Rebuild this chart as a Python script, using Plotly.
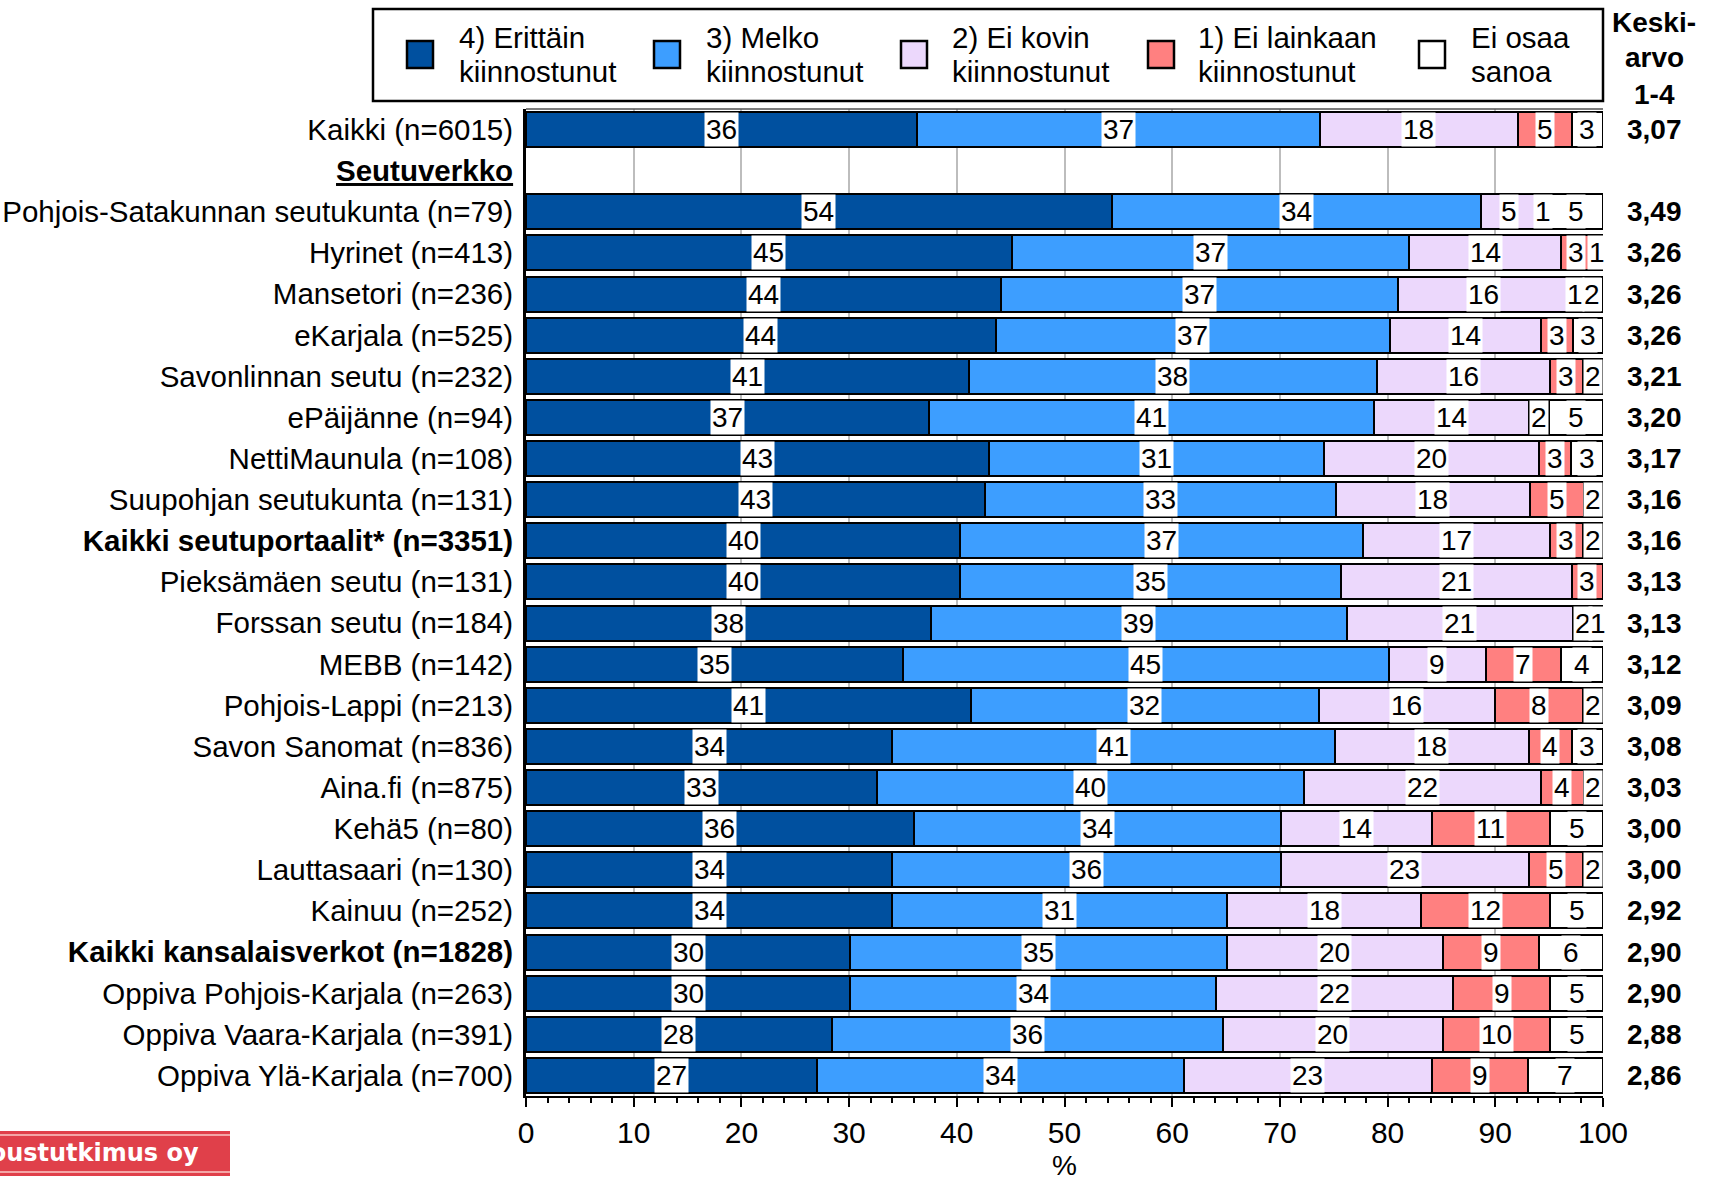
import plotly.graph_objects as go

# ---------------- data ----------------
HEADER = "<b><u>Seutuverkko</u></b>"
row_order = [
    "Kaikki (n=6015)", HEADER,
    "Pohjois-Satakunnan seutukunta (n=79)", "Hyrinet (n=413)", "Mansetori (n=236)",
    "eKarjala (n=525)", "Savonlinnan seutu (n=232)", "ePäijänne (n=94)",
    "NettiMaunula (n=108)", "Suupohjan seutukunta (n=131)",
    "<b>Kaikki seutuportaalit* (n=3351)</b>", "Pieksämäen seutu (n=131)",
    "Forssan seutu (n=184)", "MEBB (n=142)", "Pohjois-Lappi (n=213)",
    "Savon Sanomat (n=836)", "Aina.fi (n=875)", "Kehä5 (n=80)",
    "Lauttasaari (n=130)", "Kainuu (n=252)",
    "<b>Kaikki kansalaisverkot (n=1828)</b>", "Oppiva Pohjois-Karjala (n=263)",
    "Oppiva Vaara-Karjala (n=391)", "Oppiva Ylä-Karjala (n=700)",
]
bar_rows = [r for r in row_order if r != HEADER]

erittain = [36.3, 54.4, 45.1, 44.1, 43.6, 41.1, 37.4, 43.0, 42.6, 40.3, 40.3, 37.6,
            35.0, 41.3, 34.0, 32.6, 36.0, 34.0, 34.0, 30.1, 30.1, 28.4, 27.0]
melko = [37.4, 34.3, 36.9, 36.9, 36.6, 37.9, 41.3, 31.1, 32.6, 37.4, 35.4, 38.6,
         45.1, 32.3, 41.1, 39.6, 34.1, 36.1, 31.1, 35.0, 34.0, 36.3, 34.1]
ei_kovin = [18.4, 5.2, 14.1, 15.8, 14.0, 16.1, 14.4, 20.0, 18.0, 17.4, 21.4, 21.0,
            9.0, 16.4, 18.0, 22.0, 14.0, 23.0, 18.0, 20.0, 22.0, 20.4, 23.0]
ei_lainkaan = [5.0, 1.0, 2.8, 1.2, 3.0, 3.0, 1.9, 2.9, 5.0, 3.0, 2.9, 1.9,
               7.0, 8.1, 4.0, 4.0, 11.0, 5.0, 12.0, 9.0, 9.0, 10.0, 8.9]
ei_osaa = [2.9, 5.1, 1.1, 2.0, 2.8, 1.9, 5.0, 3.0, 1.8, 1.9, 0.0, 0.9,
           3.9, 1.9, 2.9, 1.8, 4.9, 1.9, 4.9, 5.9, 4.9, 4.9, 7.0]
keskiarvo = [3.07, 3.49, 3.26, 3.26, 3.26, 3.21, 3.20, 3.17, 3.16, 3.16, 3.13, 3.13,
             3.12, 3.09, 3.08, 3.03, 3.00, 3.00, 2.92, 2.90, 2.90, 2.88, 2.86]

series_names = ["4) Erittäin kiinnostunut", "3) Melko kiinnostunut",
                "2) Ei kovin kiinnostunut", "1) Ei lainkaan kiinnostunut", "Ei osaa sanoa"]
legend_lines = [("4) Erittäin", "kiinnostunut"), ("3) Melko", "kiinnostunut"),
                ("2) Ei kovin", "kiinnostunut"), ("1) Ei lainkaan", "kiinnostunut"),
                ("Ei osaa", "sanoa")]
series_values = [erittain, melko, ei_kovin, ei_lainkaan, ei_osaa]
colors = ["#00509F", "#3D9EFF", "#ECD8FC", "#FF8080", "#FFFFFF"]

# ---------------- layout geometry ----------------
W, H = 1710, 1181
ML, MR, MT, MB = 526, 107, 109, 85
PW = W - ML - MR
PH = H - MT - MB


def px2x(px):
    return (px - ML) / PW


def px2y(py):
    return (H - MB - py) / PH


FONT = "Liberation Sans, Arial, sans-serif"

fig = go.Figure()
for name, vals, col in zip(series_names, series_values, colors):
    fig.add_trace(go.Bar(
        y=bar_rows, x=vals, name=name, orientation="h",
        marker=dict(color=col, line=dict(color="black", width=2)),
        showlegend=False,
        hovertemplate="%{y}: %{x}<extra>" + name + "</extra>",
    ))

annotations = []
# value labels with white background, centred in each segment
for i, row in enumerate(bar_rows):
    cum = 0.0
    for vals in series_values:
        v = vals[i]
        if v > 0:
            annotations.append(dict(
                x=cum + v / 2, y=row, xref="x", yref="y",
                text=str(int(v + 0.5)), showarrow=False,
                xanchor="center", yanchor="middle",
                font=dict(family=FONT, size=28, color="black"),
                bgcolor="white", borderpad=1,
            ))
        cum += v

# mean column
for row, m in zip(bar_rows, keskiarvo):
    annotations.append(dict(
        x=px2x(1654), y=row, xref="paper", yref="y",
        text="<b>" + f"{m:.2f}".replace(".", ",") + "</b>",
        showarrow=False, xanchor="center", yanchor="middle",
        font=dict(family=FONT, size=28, color="black"),
    ))
for txt, py in [("Keski-", 22), ("arvo", 58), ("1-4", 94)]:
    annotations.append(dict(
        x=px2x(1654), y=px2y(py), xref="paper", yref="paper",
        text="<b>" + txt + "</b>", showarrow=False,
        font=dict(family=FONT, size=28, color="black"),
        xanchor="center", yanchor="middle",
    ))

shapes = []
# legend box
shapes.append(dict(type="rect", xref="paper", yref="paper",
                   x0=px2x(373), x1=px2x(1603), y0=px2y(101), y1=px2y(9),
                   line=dict(color="black", width=2.5), fillcolor="white"))
sw_x = [407, 654, 901, 1148, 1419]
txt_x = [457, 704, 950, 1196, 1469]
for sx, tx, col, (l1, l2) in zip(sw_x, txt_x, colors, legend_lines):
    shapes.append(dict(type="rect", xref="paper", yref="paper",
                       x0=px2x(sx), x1=px2x(sx + 26), y0=px2y(68), y1=px2y(41),
                       line=dict(color="black", width=2.5), fillcolor=col))
    for txt, py in [(l1, 38), (l2, 72)]:
        annotations.append(dict(
            x=px2x(tx), y=px2y(py), xref="paper", yref="paper",
            text=txt, showarrow=False, xanchor="left", yanchor="middle",
            font=dict(family=FONT, size=29.5, color="black"),
        ))

# top border of plot area
shapes.append(dict(type="line", xref="paper", yref="paper", x0=0, x1=1, y0=1, y1=1,
                   line=dict(color="#505050", width=1.5)))

# company logo strip (bottom-left)
shapes.append(dict(type="rect", xref="paper", yref="paper",
                   x0=px2x(-5), x1=px2x(230), y0=px2y(1176), y1=px2y(1131),
                   line=dict(width=0), fillcolor="#E0404A"))
for py in (1135, 1172):
    shapes.append(dict(type="line", xref="paper", yref="paper",
                       x0=px2x(-5), x1=px2x(230), y0=px2y(py), y1=px2y(py),
                       line=dict(color="#F4A6A6", width=2)))
annotations.append(dict(
    x=px2x(201), y=px2y(1153), xref="paper", yref="paper",
    text="<b>Taloustutkimus oy</b>", showarrow=False,
    xanchor="right", yanchor="middle",
    font=dict(family="DejaVu Sans, sans-serif", size=24, color="white"),
))

fig.update_layout(
    width=W, height=H,
    margin=dict(l=ML, r=MR, t=MT, b=MB, pad=0, autoexpand=False),
    barmode="stack", bargap=0.15,
    plot_bgcolor="white", paper_bgcolor="white",
    font=dict(family=FONT, size=28, color="black"),
    annotations=annotations, shapes=shapes,
    showlegend=False,
    xaxis=dict(
        range=[0, 100], dtick=10, tick0=0, automargin=False,
        showgrid=True, gridcolor="#BDBDBD", gridwidth=1.5,
        showline=True, linecolor="black", linewidth=2,
        ticks="outside", ticklen=9, tickwidth=2, tickcolor="black",
        minor=dict(dtick=2, ticks="outside", ticklen=5, tickwidth=1.5,
                   tickcolor="black", showgrid=False),
        tickfont=dict(family=FONT, size=30, color="black"),
        title=dict(text="%", font=dict(family=FONT, size=28, color="black"), standoff=14),
        zeroline=False, fixedrange=True,
    ),
    yaxis=dict(
        type="category", categoryorder="array", categoryarray=row_order,
        autorange="reversed", automargin=False,
        showgrid=False, showline=True, linecolor="black", linewidth=3,
        ticks="", ticklabelstandoff=4,
        tickfont=dict(family=FONT, size=29.5, color="black"),
        fixedrange=True,
    ),
)

fig.write_html(
    "out.html",
    config={"displayModeBar": False},
    post_script="document.body.style.margin='0';document.body.style.overflow='hidden';",
)
